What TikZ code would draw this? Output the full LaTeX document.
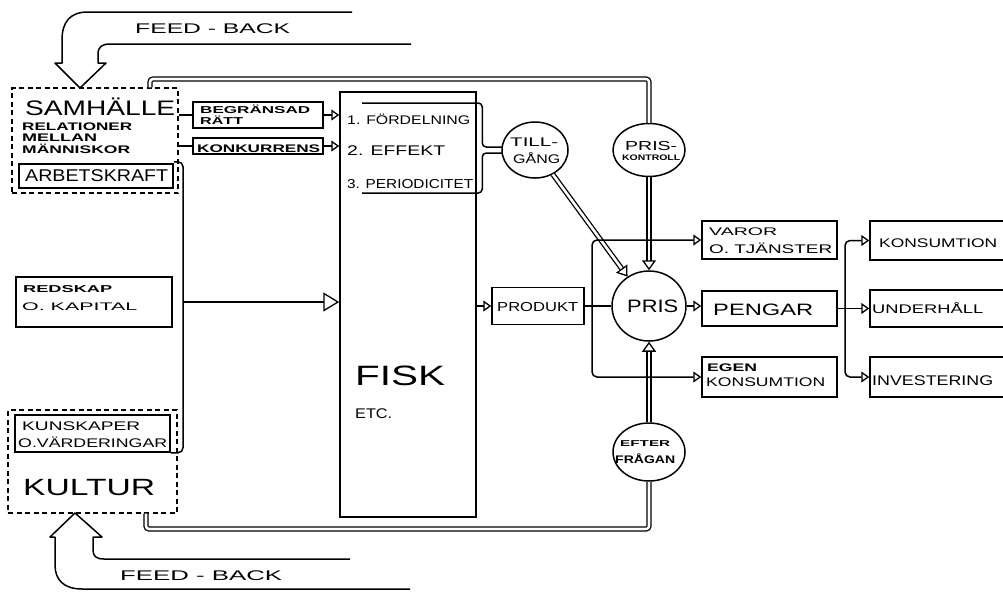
\documentclass[tikz,border=0pt]{standalone}
\usepackage{fontspec}
\setmainfont{Liberation Sans}
\usepackage{graphicx}
\usetikzlibrary{arrows.meta,shapes.geometric,calc}
\newcommand\lbl[2]{\resizebox{#1pt}{\height}{#2}}
\newcommand\fs[1]{\fontsize{#1}{#1}\selectfont}
\newcommand\bs[1]{\fontsize{#1}{#1}\selectfont\bfseries}
\begin{document}
\begin{tikzpicture}[x=1pt,y=-1pt,
  ln/.style={line width=1.5pt},
  box/.style={draw,line width=1.5pt,rectangle,inner sep=0pt},
  dbox/.style={draw,line width=1.3pt,rectangle,inner sep=0pt,dash pattern=on 5pt off 3.5pt},
  oval/.style={draw,line width=1.5pt,ellipse,inner sep=0pt},
  txt/.style={inner sep=0pt,anchor=base west},
  tri/.style={-{Triangle[open,length=8pt,width=11pt,line width=1.3pt]}},
  bigtri/.style={-{Triangle[open,length=16pt,width=19pt,line width=1.3pt]}},
  dbl/.style={line width=1.3pt,double=white,double distance=2.6pt},
  dtip/.style={-{Triangle[open,length=10pt,width=14pt]}},
  fb/.style={line width=1.5pt,line join=round}]
\useasboundingbox (0,0) rectangle (1003,592);
\clip (0,0) rectangle (1003,592);

% boxes
\node[dbox,minimum width=166pt,minimum height=105pt] (samh) at (95,140.5) {};
\node[box,minimum width=154pt,minimum height=24pt] (arb) at (96,176) {};
\node[box,minimum width=130pt,minimum height=26pt] (begr) at (258,115) {};
\node[box,minimum width=130pt,minimum height=16pt] (konk) at (258,146) {};
\node[box,minimum width=156pt,minimum height=50pt] (red) at (94,302) {};
\node[dbox,minimum width=169pt,minimum height=103pt] (kult) at (92.5,461.5) {};
\node[box,minimum width=155pt,minimum height=37pt] (kuns) at (92.5,433.5) {};
\node[box,minimum width=136pt,minimum height=425pt] (fisk) at (408,304.5) {};
\node[box,minimum width=92pt,minimum height=37pt] (prod) at (538,306) {};
\node[box,minimum width=135pt,minimum height=38pt] (varor) at (769.5,240) {};
\node[box,minimum width=135pt,minimum height=35pt] (peng) at (769.5,308.5) {};
\node[box,minimum width=135pt,minimum height=40pt] (egen) at (769.5,377) {};
\node[box,minimum width=145pt,minimum height=39pt] (kons) at (942.5,240.5) {};
\node[box,minimum width=145pt,minimum height=37pt] (underh) at (942.5,308.5) {};
\node[box,minimum width=145pt,minimum height=40pt] (inv) at (942.5,377) {};
\node[oval,minimum width=66pt,minimum height=56pt] (tillg) at (535,150) {};
\node[oval,minimum width=72pt,minimum height=53pt] (prisk) at (649,150) {};
\node[oval,minimum width=74pt,minimum height=70pt] (pris) at (649,306) {};
\node[oval,minimum width=72pt,minimum height=58pt] (eftf) at (649,452) {};

% coordinates
\coordinate (j) at (183,302);
\coordinate (b) at (592,306);
\coordinate (c) at (845,308.5);
\coordinate (brT) at (362,103);
\coordinate (brB) at (362,193);
\coordinate (tlx) at (150,0);
\coordinate (blx) at (146,0);
\coordinate (ytop) at (0,79);
\coordinate (ybot) at (0,529);

% double lines
\draw[dbl,rounded corners=3pt] (samh.north -| tlx) |- (prisk.north |- ytop) -- (prisk.north);
\draw[dbl,rounded corners=3pt] (kult.south -| blx) |- (eftf.south |- ybot) -- (eftf.south);
\draw[dbl,dtip] (prisk.south) -- (pris.north);
\draw[dbl,dtip] (eftf.north) -- (pris.south);
\draw[dbl,dtip] (tillg) -- (pris);

% single connectors
\draw[ln] (samh.east |- begr.west) -- (begr.west);
\draw[ln] (samh.east |- konk.west) -- (konk.west);
\draw[ln,tri] (begr.east) -- (fisk.west |- begr.east);
\draw[ln,tri] (konk.east) -- (fisk.west |- konk.east);
\draw[ln,rounded corners=5pt] ([yshift=1.5pt]arb.north east) -| (j) |- (kuns.south east);
\draw[ln,bigtri] (j) -- (fisk.west |- j);
\draw[ln,tri] (fisk.east |- prod.west) -- (prod.west);
\draw[ln] (prod.east) -- (pris.west);
\draw[ln,tri,rounded corners=5pt] (b) |- (varor.west);
\draw[ln,tri,rounded corners=5pt] (b) |- (egen.west);
\draw[ln,tri] (pris.east) -- (peng.west |- pris.east);
\draw[ln] (peng.east) -- (c);
\draw[ln,tri,rounded corners=5pt] (c) |- (kons.west);
\draw[ln,tri] (c) -- (underh.west);
\draw[ln,tri,rounded corners=5pt] (c) |- (inv.west);
\draw[ln,rounded corners=4pt] (brT) -| ($(tillg.west)+(-19,-3)$) -- ($(tillg.west)+(0.5,-3)$);
\draw[ln,rounded corners=4pt] (brB) -| ($(tillg.west)+(-19,3)$) -- ($(tillg.west)+(0.5,3)$);

% feed-back arrows
\draw[fb] (352,12) -- (88,12) .. controls (70,12) and (62,22) .. (62,40) -- (62,63) -- (55,63) -- (80,88) -- (106,63) -- (98,63) -- (98,54) .. controls (98,47) and (102,44) .. (110,44) -- (411,44);
\draw[fb] (410,589) -- (82,589) .. controls (64,589) and (55,580) .. (55,565) -- (55,537) -- (50,537) -- (75,513) -- (102,537) -- (93,537) -- (93,550) .. controls (93,556) and (96,559) .. (104,559) -- (350,559);

% texts
\node[txt] (tfb1) at (135,33) {\fs{14}\lbl{155}{FEED - BACK}};
\node[txt] (tsam) at (25,115.5) {\fs{21}\lbl{150}{SAMHÄLLE}};
\node[txt] (trel) at (22,130) {\bs{11}\lbl{110}{RELATIONER}};
\node[txt] (tmel) at (22,141) {\bs{11}\lbl{75}{MELLAN}};
\node[txt] (tman) at (22,153) {\bs{11}\lbl{108}{MÄNNISKOR}};
\node[txt] (tarb) at (25,181.5) {\fs{17}\lbl{143}{ARBETSKRAFT}};
\node[txt] (tbeg) at (200,113) {\bs{10}\lbl{110}{BEGRÄNSAD}};
\node[txt] (trat) at (200,124) {\bs{10}\lbl{43}{RÄTT}};
\node[txt] (tkon) at (197,152) {\bs{11}\lbl{123}{KONKURRENS}};
\node[txt] (tf1) at (347,124) {\fs{12.5}\lbl{123}{1. FÖRDELNING}};
\node[txt] (tf2) at (347,155) {\fs{14}\lbl{98}{2. EFFEKT}};
\node[txt] (tf3) at (347,188) {\fs{13}\lbl{126}{3. PERIODICITET}};
\node[txt] (ttil) at (510,146) {\fs{12.5}\lbl{48}{TILL-}};
\node[txt] (tgan) at (513,163) {\fs{12.5}\lbl{47}{GÅNG}};
\node[txt] (tpk1) at (625,150) {\fs{13}\lbl{52}{PRIS-}};
\node[txt] (tpk2) at (622,160) {\bs{8}\lbl{58}{KONTROLL}};
\node[txt] (tpro) at (497,311) {\fs{13}\lbl{81}{PRODUKT}};
\node[txt] (tpri) at (627,312) {\fs{18}\lbl{51}{PRIS}};
\node[txt] (tfis) at (355,385) {\fs{28}\lbl{90}{FISK}};
\node[txt] (tetc) at (355,418) {\fs{14}\lbl{37}{ETC.}};
\node[txt] (tvar) at (709,235) {\fs{11}\lbl{68}{VAROR}};
\node[txt] (ttja) at (709,253) {\fs{12.5}\lbl{123}{O. TJÄNSTER}};
\node[txt] (tpen) at (713,315) {\fs{16.5}\lbl{100}{PENGAR}};
\node[txt] (tege) at (707,371) {\bs{11}\lbl{50}{EGEN}};
\node[txt] (teko) at (706,386) {\fs{12.5}\lbl{119}{KONSUMTION}};
\node[txt] (tko2) at (879,247) {\fs{12.5}\lbl{118}{KONSUMTION}};
\node[txt] (tund) at (872,313) {\fs{12.5}\lbl{111}{UNDERHÅLL}};
\node[txt] (tinv) at (872,385) {\fs{14}\lbl{121}{INVESTERING}};
\node[txt] (tred) at (23,292) {\bs{10}\lbl{89}{REDSKAP}};
\node[txt] (tkap) at (22,310) {\fs{11}\lbl{115}{O. KAPITAL}};
\node[txt] (tkun) at (22,430) {\fs{12.5}\lbl{118}{KUNSKAPER}};
\node[txt] (tvr2) at (18,447) {\fs{12.5}\lbl{149}{O.VÄRDERINGAR}};
\node[txt] (tkul) at (23,495) {\fs{23.5}\lbl{132}{KULTUR}};
\node[txt] (teft) at (620,446) {\bs{8.5}\lbl{50}{EFTER}};
\node[txt] (tfra) at (615,463) {\bs{11}\lbl{60}{FRÅGAN}};
\node[txt] (tfb2) at (120,580) {\fs{14}\lbl{162}{FEED - BACK}};
\end{tikzpicture}
\end{document}
